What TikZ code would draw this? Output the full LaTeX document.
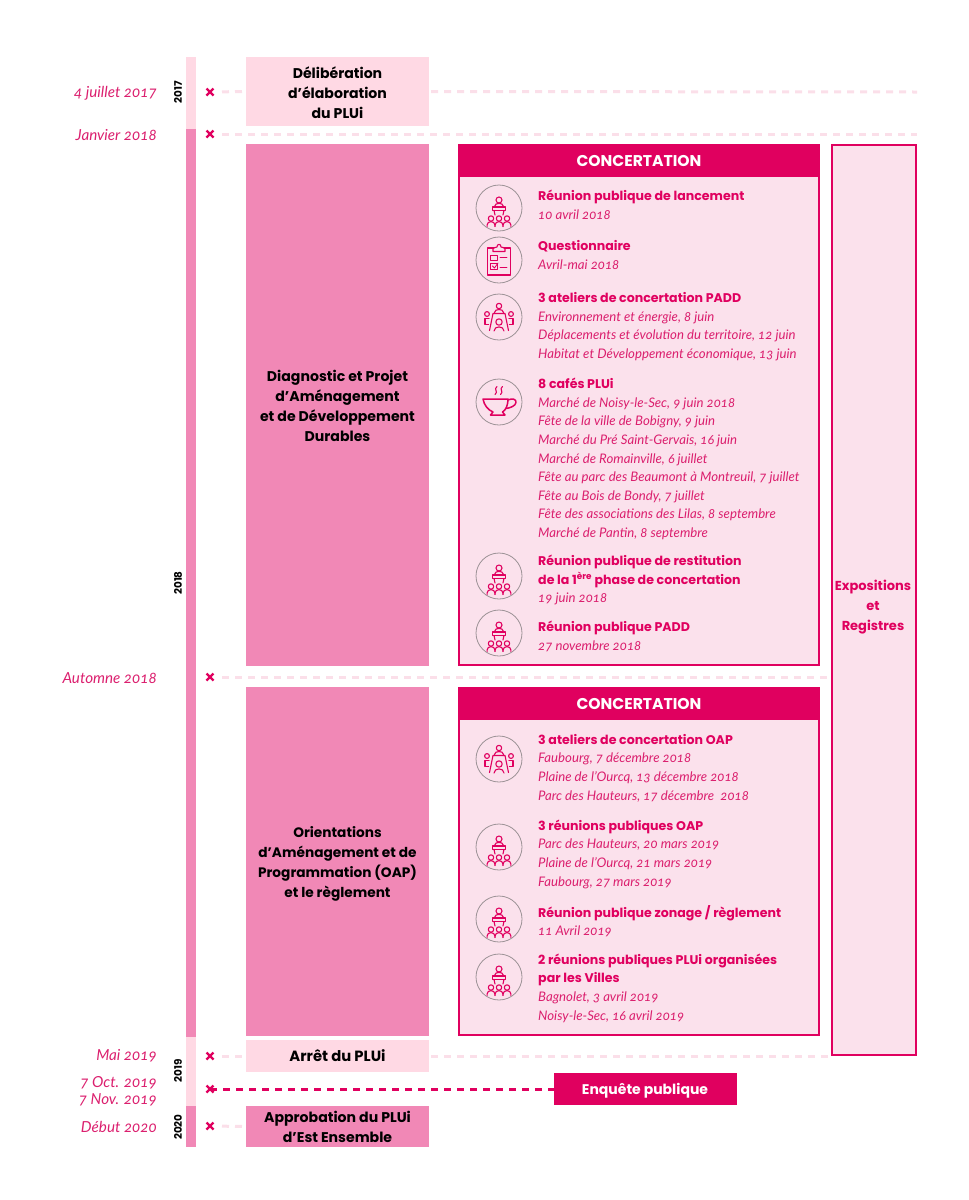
\documentclass[tikz,border=0pt]{standalone}
\usepackage{fontspec}
\usetikzlibrary{shapes.misc}
\setmainfont{Poppins}
\newfontfamily\itf[Numbers=OldStyle]{Lato}
\definecolor{mag}{HTML}{E0005F}
\definecolor{magt}{HTML}{DB1F6E}
\definecolor{mid}{HTML}{F188B6}
\definecolor{lite}{HTML}{FFD9E4}
\definecolor{pale}{HTML}{FBE1EC}
\definecolor{dashl}{HTML}{FBDFE9}
\definecolor{ringc}{HTML}{9C9296}
\newcommand{\hd}[1]{{\bfseries\fontsize{12.6}{18.6}\selectfont\color{mag}#1}}
\newcommand{\dt}[1]{{\itf\itshape\fontsize{13.2}{18.6}\selectfont\color{magt}#1}}
\newcommand{\st}{\rule{0pt}{10pt}}
\tikzset{
 x=1pt,y=-1pt,
 blk/.style={rectangle,inner sep=0pt,outer sep=0pt,align=center,font=\bfseries\fontsize{14.1}{20}\selectfont,text=black},
 litebox/.style={blk,fill=lite},
 midbox/.style={blk,fill=mid},
 frame/.style={rectangle,inner sep=0pt,outer sep=0pt,draw=mag,line width=2pt,fill=pale},
 headbox/.style={blk,fill=mag,text=white,font=\bfseries\fontsize{15.6}{20}\selectfont},
 datelab/.style={anchor=east,inner sep=0pt,align=right,font=\itf\itshape\fontsize{15.2}{17}\selectfont,text=magt},
 yearlab/.style={rotate=90,inner sep=0pt,font=\bfseries\fontsize{10.4}{12}\selectfont,text=black},
 xmark/.style={cross out,draw=mag,line width=2.4pt,minimum size=7pt,inner sep=0pt,outer sep=0pt},
 lightdash/.style={draw=dashl,line width=3pt,dash pattern=on 7pt off 6pt},
 strongdash/.style={draw=mag,line width=3pt,dash pattern=on 7pt off 6pt},
 item/.style={anchor=north west,inner sep=0pt,align=left,font=\fontsize{13}{18.6}\selectfont},
 ring/.style={circle,draw=ringc,line width=.8pt,minimum size=46pt,inner sep=0pt},
 ic/.style={draw=mag,line width=1.1pt,line join=round,line cap=round},
 podium/.pic={
  \draw[ic] (0,-8) circle[radius=3];
  \draw[ic] (-4.2,-1) -- (-4.2,-2) .. controls (-4.2,-5.5) and (4.2,-5.5) .. (4.2,-2) -- (4.2,-1);
  \draw[ic] (-6.8,-1) -- (6.8,-1) -- (6.8,2.3) -- (-6.8,2.3) -- cycle;
  \draw[ic] (-5,2.3) -- (-4,7) (5,2.3) -- (4,7);
  \foreach \a in {-8,0,8}{
   \draw[ic] (\a,10.5) circle[radius=2.7];
   \draw[ic] (\a-3.9,18.5) -- (\a-3.9,17) .. controls (\a-3.9,12.5) and (\a+3.9,12.5) .. (\a+3.9,17) -- (\a+3.9,18.5);}
 },
 clip board/.pic={
  \draw[ic] (-5,-12) -- (-11.5,-12) -- (-11.5,15) -- (11.5,15) -- (11.5,-12) -- (5,-12);
  \draw[ic] (-6,-8.5) -- (-6,-12) -- (-2,-13) .. controls (-2,-16.5) and (2,-16.5) .. (2,-13) -- (6,-12) -- (6,-8.5) -- cycle;
  \draw[ic,line width=.8pt] (-8.5,-5) rectangle (-1.5,0);
  \draw[ic,line width=.8pt] (1,-2.5) -- (8,-2.5);
  \draw[ic,line width=.8pt] (-8.5,3.5) rectangle (-1.5,9.5);
  \draw[ic,line width=.8pt] (-6.5,6) -- (-4.5,8) -- (-1,3);
  \draw[ic,line width=.8pt] (1,7) -- (8,7);
 },
 group/.pic={
  \draw[ic] (0,-11) circle[radius=2.7];
  \draw[ic] (-4.5,-3.5) -- (-4.5,-4.5) .. controls (-4.5,-8.5) and (4.5,-8.5) .. (4.5,-4.5) -- (4.5,-3.5);
  \draw[ic] (-12,-3) circle[radius=2.4];
  \draw[ic] (12,-3) circle[radius=2.4];
  \draw[ic] (-10,1.5) -- (-14,1.5) -- (-14,7.5) -- (-10.5,7.5);
  \draw[ic] (10,1.5) -- (14,1.5) -- (14,7.5) -- (10.5,7.5);
  \draw[ic] (-9.5,13.5) -- (-6,-3.5) -- (6,-3.5) -- (9.5,13.5);
  \draw[ic] (0,5) circle[radius=3.2];
  \draw[ic] (-5,14) .. controls (-5,8.5) and (5,8.5) .. (5,14);
 },
 cup/.pic={
  \draw[ic,line width=1.5pt] (-16,-3) -- (9,-3) .. controls (9,3) and (7,8) .. (3.5,10) -- (6,13) -- (-8.5,13) -- (-6,10) .. controls (-11,8) and (-15,3) .. cycle;
  \draw[ic,line width=1.5pt] (9,-2) .. controls (13,-4) and (17.5,-3) .. (17,0.5) .. controls (16.5,4) and (11,6) .. (7,6.5);
  \draw[ic] (-2,-15.5) .. controls (-6,-12.5) and (0,-10.5) .. (-4,-7.5);
  \draw[ic] (3.5,-15.5) .. controls (-0.5,-12.5) and (5.5,-10.5) .. (1.5,-7.5);
 }
}
\begin{document}
\begin{tikzpicture}
\useasboundingbox (0,0) rectangle (969,1200);
% timeline bars
\node[litebox,minimum width=10pt,minimum height=72pt] (t1) at (191,93) {};
\node[midbox,minimum width=10pt,minimum height=908pt] (t2) at (191,583) {};
\node[litebox,minimum width=10pt,minimum height=69pt] (t3) at (191,1071.5) {};
\node[midbox,minimum width=10pt,minimum height=41pt] (t4) at (191,1126.5) {};
% years
\node[yearlab] (y17) at (178,92) {2017};
\node[yearlab] (y18) at (178,583) {2018};
\node[yearlab] (y19) at (178,1071) {2019};
\node[yearlab] (y20) at (178,1127) {2020};
% dates
\node[datelab] (d1) at (157,93.5) {4 juillet 2017};
\node[datelab] (d2) at (157,135) {Janvier 2018};
\node[datelab] (d3) at (157,678) {Automne 2018};
\node[datelab] (d4) at (157,1056) {Mai 2019};
\node[datelab] (d5) at (157,1091) {7 Oct. 2019\\7 Nov. 2019};
\node[datelab] (d6) at (157,1127) {Début 2020};
% stage boxes
\node[litebox,minimum width=183pt,minimum height=69pt] (b1) at (337.5,91.5) {};
\node[blk] (b1t) at (337.5,92.5) {Délibération\\d’élaboration\\du PLUi};
\node[midbox,minimum width=183pt,minimum height=522pt] (b2) at (337.5,405) {};
\node[blk] (b2t) at (337.5,405.5) {Diagnostic et Projet\\d’Aménagement\\et de Développement\\Durables};
\node[midbox,minimum width=183pt,minimum height=349pt] (b3) at (337.5,861.5) {};
\node[blk,font=\bfseries\fontsize{13.7}{20}\selectfont] (b3t) at (337.5,864) {Orientations\\d’Aménagement et de\\Programmation (OAP)\\et le règlement};
\node[litebox,minimum width=183pt,minimum height=32pt] (b4) at (337.5,1056) {};
\node[blk,font=\bfseries\fontsize{14.8}{20}\selectfont] (b4t) at (337.5,1056) {Arrêt du PLUi};
\node[midbox,minimum width=183pt,minimum height=41pt] (b5) at (337.5,1126.5) {Approbation du PLUi\\d’Est Ensemble};
% expositions
\node[frame,minimum width=84pt,minimum height=910pt] (exp) at (874,600) {};
\node[blk,text=mag,font=\bfseries\fontsize{13}{20}\selectfont] (expt) at (873,607) {Expositions\\et\\Registres};
% enquete
\node[headbox,minimum width=183pt,minimum height=32pt] (enq) at (645.5,1089) {};
\node[blk,text=white,font=\bfseries\fontsize{14}{20}\selectfont] (enqt) at (645,1091) {Enquête publique};
% connectors
\coordinate (e1) at (917,92);
\coordinate (e2) at (917,134);
\coordinate (x1c) at (210,92);
\coordinate (x2c) at (210,134);
\coordinate (x3c) at (210,677);
\coordinate (x4c) at (210,1056);
\coordinate (x5c) at (210,1089);
\coordinate (x6c) at (210,1126);
\draw[lightdash,shorten <=12pt] (x1c) -- (b1.west);
\draw[lightdash] (b1.east) ++(2,0) -- (e1);
\draw[lightdash,shorten <=12pt] (x2c) -- (e2);
\draw[lightdash,shorten <=12pt] (x3c) -- (x3c -| exp.west);
\draw[lightdash,shorten <=12pt] (x4c) -- (b4.west);
\draw[lightdash] (b4.east) ++(2,0) -- (b4.east -| exp.west);
\draw[strongdash] (x5c) -- (enq.west);
\draw[lightdash,shorten <=12pt] (x6c) -- (b5.west);
% marks
\node[xmark] (x1) at (x1c) {};
\node[xmark] (x2) at (x2c) {};
\node[xmark] (x3) at (x3c) {};
\node[xmark] (x4) at (x4c) {};
\node[xmark] (x5) at (x5c) {};
\node[xmark] (x6) at (x6c) {};
% concertation 1
\node[frame,minimum width=360pt,minimum height=520pt] (c1) at (639,405) {};
\node[headbox,minimum width=362pt,minimum height=33pt] (h1) at (639,160.5) {CONCERTATION};
% concertation 2
\node[frame,minimum width=360pt,minimum height=347pt] (c2) at (639,861.5) {};
\node[headbox,minimum width=362pt,minimum height=33pt] (h2) at (639,703.5) {CONCERTATION};
% items
\node[item] (i1) at (538,190) {\st\hd{Réunion publique de lancement}\\\dt{10 avril 2018}};
\node[item] (i2) at (538,240.5) {\st\hd{Questionnaire}\\\dt{Avril-mai 2018}};
\node[item] (i3) at (538,292.5) {\st\hd{3 ateliers de concertation PADD}\\\dt{Environnement et énergie, 8 juin}\\\dt{Déplacements et évolution du territoire, 12 juin}\\\dt{Habitat et Développement économique, 13 juin}};
\node[item] (i4) at (538,378) {\st\hd{8 cafés PLUi}\\\dt{Marché de Noisy-le-Sec, 9 juin 2018}\\\dt{Fête de la ville de Bobigny, 9 juin}\\\dt{Marché du Pré Saint-Gervais, 16 juin}\\\dt{Marché de Romainville, 6 juillet}\\\dt{Fête au parc des Beaumont à Montreuil, 7 juillet}\\\dt{Fête au Bois de Bondy, 7 juillet}\\\dt{Fête des associations des Lilas, 8 septembre}\\\dt{Marché de Pantin, 8 septembre}};
\node[item] (i5) at (538,555) {\st\hd{Réunion publique de restitution}\\\hd{de la 1\textsuperscript{ère} phase de concertation}\\\dt{19 juin 2018}};
\node[item] (i6) at (538,621) {\st\hd{Réunion publique PADD}\\\dt{27 novembre 2018}};
\node[item] (i7) at (538,734) {\st\hd{3 ateliers de concertation OAP}\\\dt{Faubourg, 7 décembre 2018}\\\dt{Plaine de l’Ourcq, 13 décembre 2018}\\\dt{Parc des Hauteurs, 17 décembre~ 2018}};
\node[item] (i8) at (538,819.5) {\st\hd{3 réunions publiques OAP}\\\dt{Parc des Hauteurs, 20 mars 2019}\\\dt{Plaine de l’Ourcq, 21 mars 2019}\\\dt{Faubourg, 27 mars 2019}};
\node[item] (i9) at (538,905) {\st\hd{Réunion publique zonage / règlement}\\\dt{11 Avril 2019}};
\node[item] (i10) at (538,953.5) {\st\hd{2 réunions publiques PLUi organisées}\\\hd{par les Villes}\\\dt{Bagnolet, 3 avril 2019}\\\dt{Noisy-le-Sec, 16 avril 2019}};
% icons
\node[ring] (r1) at (499,208) {};
\pic at (r1.center) {podium};
\node[ring] (r2) at (499,260) {};
\pic at (r2.center) {clip board};
\node[ring] (r3) at (499,317) {};
\pic at (r3.center) {group};
\node[ring] (r4) at (499,402) {};
\pic at (r4.center) {cup};
\node[ring] (r5) at (499,576) {};
\pic at (r5.center) {podium};
\node[ring] (r6) at (499,633) {};
\pic at (r6.center) {podium};
\node[ring] (r7) at (499,759) {};
\pic at (r7.center) {group};
\node[ring] (r8) at (499,847) {};
\pic at (r8.center) {podium};
\node[ring] (r9) at (499,919) {};
\pic at (r9.center) {podium};
\node[ring] (r10) at (499,977) {};
\pic at (r10.center) {podium};
\end{tikzpicture}
\end{document}
